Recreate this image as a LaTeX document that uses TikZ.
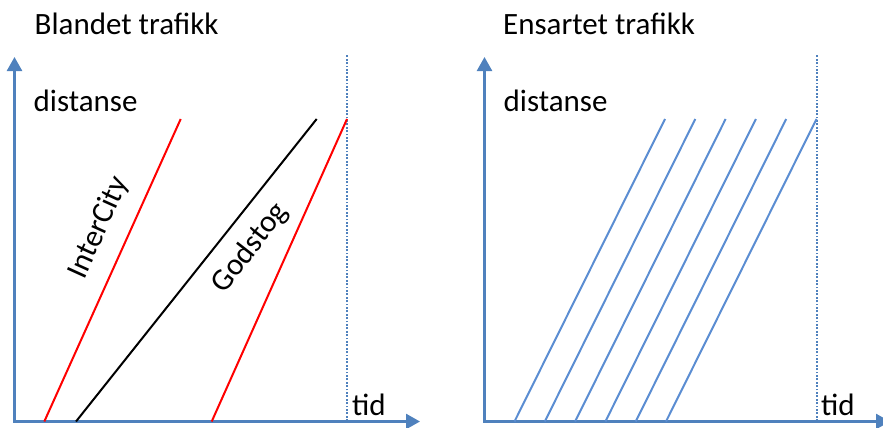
\documentclass[tikz,border=0pt]{standalone}
\usepackage{fontspec}
\setmainfont{Carlito}
\usetikzlibrary{arrows.meta}

\definecolor{axisblue}{RGB}{79,129,189}
\definecolor{trainblue}{RGB}{91,141,210}
\definecolor{trainred}{RGB}{255,0,0}

\tikzset{
  axis/.style={color=axisblue, line width=2.5, -{Triangle[length=14, width=15]}},
  limit/.style={color=axisblue, line width=2.4, dash pattern={on 1.8pt off 1.6pt}},
  train/.style={line width=2},
  lbl/.style={inner sep=0pt, anchor=base west, font=\fontsize{31}{37}\selectfont},
  trainlbl/.style={inner sep=0pt, font=\fontsize{31}{37}\selectfont}
}

\begin{document}
\begin{tikzpicture}[x=1pt,y=1pt,yscale=-1,xscale=1]
\useasboundingbox (0,0) rectangle (883,428);

%Mixed traffic
\node [lbl] (titleA) at (34.5,35) {Blandet trafikk};

%AXES
\coordinate (originA) at (14.5,421.5);
\draw [axis] (originA) -- (14.5,57);
\draw [axis] (13,421.5) -- (420,421.5);
\node [lbl] (distA) at (33.5,111.7) {distanse};
\node [lbl] (timeA) at (352,415) {tid};

%End of period
\draw [limit] (346.7,421) -- (346.7,55);

%InterCity
\draw [train, color=trainred] (44.3,421.5) -- (180.7,119);
\node [trainlbl, rotate=65.6] (ic) at (99,228) {InterCity};

%Freight
\draw [train, color=black] (76,421.5) -- (316.7,119);
\node [trainlbl, rotate=52] (freight) at (250,248) {Godstog};

%InterCity, next
\draw [train, color=trainred] (211.7,421.5) -- (347,119);


%Uniform traffic
\node [lbl] (titleB) at (503,35) {Ensartet trafikk};

%AXES
\coordinate (originB) at (484.5,421.5);
\draw [axis] (originB) -- (484.5,57);
\draw [axis] (483,421.5) -- (890,421.5);
\node [lbl] (distB) at (503.5,111.7) {distanse};
\node [lbl] (timeB) at (821,415) {tid};

%End of period
\draw [limit] (817,421) -- (817,55);

%Trains, all same speed
\foreach \i in {0,...,5}
  \draw [train, color=trainblue] (514.5+30.3*\i,421.5) -- (665+30.3*\i,119);

\end{tikzpicture}
\end{document}
